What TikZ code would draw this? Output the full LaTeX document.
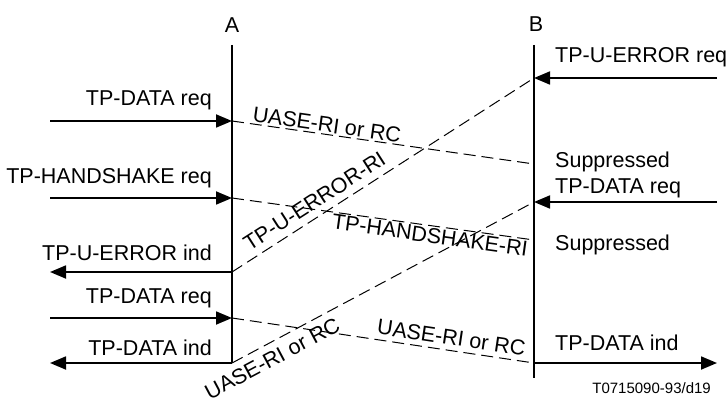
\documentclass[tikz,border=0pt]{standalone}
\usepackage{fontspec}
\setmainfont{Liberation Sans}
\usetikzlibrary{arrows.meta}
\tikzset{
  every node/.style={font=\fontsize{21.5}{25}\selectfont, inner sep=0pt},
  prim/.style={line width=1.8pt, -{Triangle[length=16pt,width=13pt]}},
  pdu/.style={line width=1pt, dash pattern=on 12pt off 6pt},
  life/.style={line width=1.8pt},
  lbl/.style={sloped, inner sep=2pt}
}
\begin{document}
\begin{tikzpicture}[x=1pt,y=-1pt]
\useasboundingbox (0,0) rectangle (727,403);

\node (A) at (232,25) {A};
\node (B) at (536,24) {B};
\coordinate (Atop) at (232,45);
\coordinate (Abot) at (232,363);
\coordinate (Btop) at (534,45);
\coordinate (Bbot) at (534,378);

\coordinate (a1) at (232,121);
\coordinate (a2) at (232,198);
\coordinate (a3) at (232,272);
\coordinate (a4) at (232,318);
\coordinate (a5) at (232,363);
\coordinate (l1) at (50,121);
\coordinate (l2) at (50,198);
\coordinate (l3) at (50,272);
\coordinate (l4) at (50,318);
\coordinate (l5) at (50,363);

\coordinate (b1) at (534,78);
\coordinate (b2) at (534,164);
\coordinate (b3) at (534,202);
\coordinate (b4) at (534,240);
\coordinate (b5) at (534,363);
\coordinate (r1) at (717,78);
\coordinate (r3) at (717,202);
\coordinate (r5) at (717,363);

\node (datareq) [anchor=base east] at (212,106) {TP-DATA req};
\node (hsreq) [anchor=base east] at (212,184) {TP-HANDSHAKE req};
\node (errind) [anchor=base east] at (212,260) {TP-U-ERROR ind};
\node (datareqb) [anchor=base east] at (212,303) {TP-DATA req};
\node (dataind) [anchor=base east] at (212,355) {TP-DATA ind};

\node (errreq) [anchor=base west] at (555,63) {TP-U-ERROR req};
\node (supp) [anchor=base west] at (555,168) {Suppressed};
\node (bdatareq) [anchor=base west] at (555,194) {TP-DATA req};
\node (suppb) [anchor=base west] at (555,250) {Suppressed};
\node (bdataind) [anchor=base west] at (555,350) {TP-DATA ind};

\node (ref) [anchor=base east, font=\fontsize{15}{18}\selectfont] at (711,393) {T0715090-93/d19};

\draw[life] (Atop) -- (Abot);
\draw[life] (Btop) -- (Bbot);

\draw[prim] (l1) -- (a1);
\draw[prim] (l2) -- (a2);
\draw[prim] (a3) -- (l3);
\draw[prim] (l4) -- (a4);
\draw[prim] (a5) -- (l5);
\draw[prim] (r1) -- (b1);
\draw[prim] (r3) -- (b3);
\draw[prim] (b5) -- (r5);

\draw[pdu] (a1) -- node[lbl, above, pos=0.31, inner sep=1.5pt] {UASE-RI or RC} (b2);
\draw[pdu] (a2) -- node[lbl, below, pos=0.66, inner sep=1.5pt] {TP-HANDSHAKE-RI} (b4);
\draw[pdu] (a3) -- node[lbl, above, pos=0.3, inner sep=7pt] {TP-U-ERROR-RI} (b1);
\draw[pdu] (a4) -- node[lbl, above, pos=0.72, inner sep=5pt] {UASE-RI or RC} (b5);
\draw[pdu] (a5) -- node[lbl, below, pos=0.11, inner sep=7pt] {UASE-RI or RC} (b3);
\end{tikzpicture}
\end{document}
